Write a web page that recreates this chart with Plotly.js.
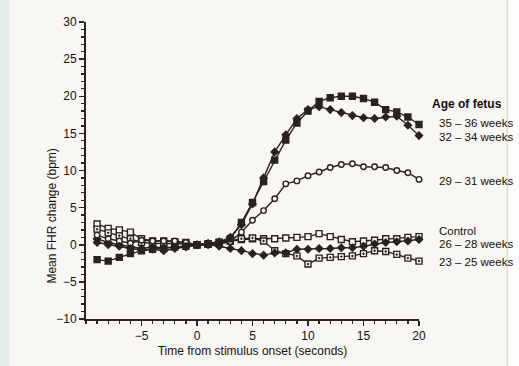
<!DOCTYPE html>
<html>
<head>
<meta charset="utf-8">
<script src="https://cdn.plot.ly/plotly-3.0.1.min.js"></script>
<style>
  html, body { margin:0; padding:0; }
  body { width:519px; height:366px; overflow:hidden;
    background: linear-gradient(to right, #e3ebeb 0px, #e3ebeb 9px, #f8f7f3 10px, #f8f7f3 506px, #d8d6d0 507px, #fdfdfd 509px); }
  #chart { width:519px; height:366px; }
</style>
</head>
<body>
<div id="chart"></div>
<script>
// ---- data ----
const timeSec = [-9,-8,-7,-6,-5,-4,-3,-2,-1,0,1,2,3,4,5,6,7,8,9,10,11,12,13,14,15,16,17,18,19,20];

const wk35_36 = [-2.0,-2.2,-1.7,-1.2,-0.8,-0.6,-0.5,-0.3,-0.2,0,0.1,0.3,0.8,3.0,5.7,8.5,11.4,14.1,16.4,18.0,19.3,19.8,20.0,20.0,19.7,19.2,18.2,17.9,17.2,16.2];
const wk32_34 = [0.3,0.0,-0.2,-0.5,-0.7,-0.6,-0.8,-0.5,-0.3,0,0.2,0.4,1.0,2.7,5.5,9.0,12.5,14.8,17.0,18.2,18.6,18.2,17.8,17.4,17.1,17.0,17.2,17.3,16.1,14.7];
const wk29_31 = [1.3,0.8,0.5,0.2,0.6,0.5,0.5,0.5,0.3,0,0.0,0.1,0.4,1.7,3.3,4.6,6.2,8.2,8.6,9.3,9.8,10.4,10.8,10.9,10.5,10.5,10.4,10.0,9.7,8.8];
const control = [2.8,2.2,2.0,1.7,0.8,0.5,0.5,0.4,0.3,0,0.1,0.3,0.5,0.7,0.8,0.8,0.8,0.9,1.0,1.1,1.5,1.1,0.7,0.4,0.5,0.6,0.8,0.8,1.0,1.1];
const wk26_28 = [0.8,0.3,0.0,-0.3,-0.5,-0.3,-0.4,-0.3,-0.2,0,0,-0.2,-0.5,-0.8,-1.2,-1.4,-1.1,-1.1,-0.6,-0.6,-0.5,-0.5,-0.4,-0.4,-0.2,0.1,0.3,0.4,0.5,0.7];
const wk23_25 = [2.1,1.6,1.2,0.8,0.3,0.2,0.2,0.2,0.1,0,0.1,0.3,0.5,0.8,0.9,0.5,-0.8,-1.2,-1.5,-2.6,-1.8,-1.7,-1.6,-1.5,-1.2,-0.8,-0.9,-1.3,-1.8,-2.2];

const seriesNames = ["35 – 36 weeks","32 – 34 weeks","29 – 31 weeks","Control","26 – 28 weeks","23 – 25 weeks"];
const legendTitle = "Age of fetus";
const yTitle = "Mean FHR change (bpm)";
const xTitle = "Time from stimulus onset (seconds)";
const yTickVals = [-10,-5,0,5,10,15,20,25,30];
const yTickText = ["−10","−5","0","5","10","15","20","25","30"];
const xTickVals = [-5,0,5,10,15,20];
const xTickText = ["−5","0","5","10","15","20"];

// ---- styling ----
const ink = '#2a2222';
const txt = '#141010';
const bg = '#f8f7f3';
const FONT = 'Liberation Sans, Arial, sans-serif';

function tr(y, symbol, filled, size) {
  return {
    x: timeSec, y: y, type: 'scatter', mode: 'lines+markers',
    line: {color: ink, width: 1.4},
    marker: {symbol: symbol, size: size, color: filled ? ink : bg,
             line: {color: ink, width: 1.4}},
    cliponaxis: false, hoverinfo: 'skip'
  };
}

const data = [
  tr(control, 'square', false, 6),
  tr(wk23_25, 'square-dot', false, 6),
  tr(wk26_28, 'diamond', true, 5.5),
  tr(wk29_31, 'circle', false, 5.5),
  tr(wk32_34, 'diamond', true, 5.5),
  tr(wk35_36, 'square', true, 6)
];

const labelY = [16.4, 14.5, 8.6, 1.9, 0.1, -2.3];
const annotations = seriesNames.map((s, i) => ({
  x: 20, y: labelY[i], xref: 'x', yref: 'y', text: s, showarrow: false,
  xanchor: 'left', yanchor: 'middle', xshift: 18,
  font: {family: FONT, size: 11.5, color: txt}
}));
annotations.push({
  x: 20, y: 19.0, xref: 'x', yref: 'y', text: '<b>' + legendTitle + '</b>', showarrow: false,
  xanchor: 'left', yanchor: 'middle', xshift: 11,
  font: {family: FONT, size: 12, color: txt}
});
// y-axis title (placed off-centre, as in the reference)
annotations.push({
  x: -0.102, y: 0.345, xref: 'paper', yref: 'paper', text: yTitle, showarrow: false,
  textangle: -90, xanchor: 'center', yanchor: 'middle',
  font: {family: FONT, size: 12, color: txt}
});

const layout = {
  width: 519, height: 366,
  margin: {l: 86, r: 100, t: 22, b: 47, pad: 0},
  paper_bgcolor: 'rgba(0,0,0,0)', plot_bgcolor: 'rgba(0,0,0,0)',
  showlegend: false,
  font: {family: FONT, size: 12, color: txt},
  xaxis: {
    range: [-10, 20], showgrid: false, zeroline: false,
    showline: true, linecolor: ink, linewidth: 2,
    ticks: 'outside', ticklen: 5, tickwidth: 1.5, tickcolor: ink,
    tickvals: xTickVals, ticktext: xTickText,
    minor: {dtick: 1, tick0: 0, ticks: 'outside', ticklen: 3, tickwidth: 1.3, tickcolor: ink},
    tickfont: {family: FONT, size: 12, color: txt},
    title: {text: xTitle, standoff: 4,
            font: {family: FONT, size: 12, color: txt}}
  },
  yaxis: {
    range: [-10, 30], showgrid: false, zeroline: false,
    showline: true, linecolor: ink, linewidth: 2,
    ticks: 'outside', ticklen: 5, tickwidth: 1.5, tickcolor: ink,
    tickvals: yTickVals, ticktext: yTickText,
    minor: {dtick: 1, tick0: 0, ticks: 'outside', ticklen: 3, tickwidth: 1.3, tickcolor: ink},
    tickfont: {family: FONT, size: 12, color: txt}
  },
  annotations: annotations
};

Plotly.newPlot('chart', data, layout, {staticPlot: true, displayModeBar: false});
</script>
</body>
</html>
